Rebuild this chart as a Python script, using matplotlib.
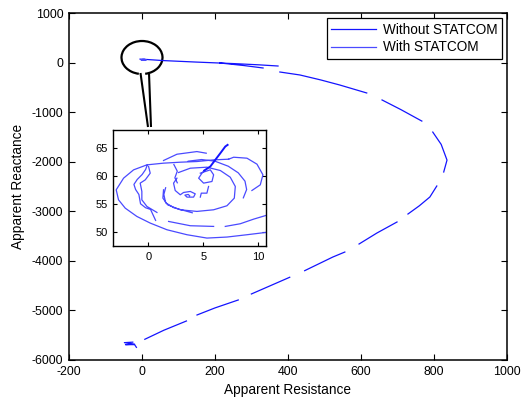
import numpy as np
import matplotlib
matplotlib.use("Agg")
import matplotlib.pyplot as plt
from matplotlib.patches import Arc

plt.rcParams['font.family'] = ['Liberation Sans', 'DejaVu Sans']
plt.rcParams['axes.unicode_minus'] = False

nan = np.nan

# "Without STATCOM" trajectory (apparent resistance, apparent reactance); NaN = gap
without_x = [-5, 5, 7.2, 60, 150, 250, 320, 373, nan,
             214, 280, 332, nan,
             378, 433, 490, 542, 616, nan,
             658, 710, 767, nan,
             797, 820, 836, 827, nan,
             808, 789, 760, 729, nan,
             699, 644, 595, nan,
             556, 523, 446, nan,
             405, 300, nan,
             264, 200, 151, nan,
             122, 60, 8, nan,
             -15, -20, -45, -20, -48, -25]
without_y = [70, 60, 65.5, 40, 10, -20, -45, -69, nan,
             -8, -60, -109, nan,
             -190, -250, -350, -452, -613, nan,
             -754, -950, -1180, nan,
             -1402, -1650, -1967, -2207, nan,
             -2490, -2712, -2890, -3055, nan,
             -3216, -3438, -3660, nan,
             -3822, -3923, -4198, nan,
             -4331, -4668, nan,
             -4789, -4950, -5092, nan,
             -5213, -5400, -5582, nan,
             -5745, -5690, -5690, -5680, -5650, -5640]

# "With STATCOM" trajectory (spiral around the operating point); NaN = gap
with_x = [7.30, 5.94, 4.42, 2.91, 1.39, -0.12, -1.33, -2.24, -2.91, -2.70, -2.09, -1.03, 0.18, 1.70, 3.52, 5.33, 7.15, 8.97, 10.70, nan,
          1.39, 2.61, 4.42, 5.27, nan,
          7.30, 7.76, 8.97, 9.88, 10.42, 10.18, 9.42, nan,
          1.85, 3.82, 5.94, nan,
          7.00, 8.36, 9.58, 10.70, nan,
          -0.09, -0.24, -0.55, -1.00, -1.30, -1.15, -0.85, -0.70, -0.24, 0.21, 0.67, nan,
          0.03, 0.18, -0.27, -0.73, -0.58, -0.58, -0.12, 0.79, nan,
          1.39, 1.33, 1.76, 2.91, 4.42, 5.94, 7.15, 7.82, 7.91, 7.45, 6.55, 5.33, 3.82, 2.76, nan,
          3.64, 4.85, 6.06, 7.27, 8.18, 8.79, 8.94, 8.64, nan,
          2.33, 2.64, 2.42, 2.64, nan,
          1.58, 1.42, 1.58, 2.33, 4.00, nan,
          2.61, 2.30, 2.45, 2.91, 3.21, 3.82, 4.27, 4.12, 3.52, 3.33, 3.64, 3.76, nan,
          4.73, 4.82, 5.33, 5.48, nan,
          4.73, 5.64, 5.94, 5.79, 5.03, 4.58, 4.88, 5.09]
with_y = [62.94, 62.82, 62.53, 62.41, 62.24, 61.94, 61.06, 59.59, 57.53, 55.76, 54.29, 52.82, 51.65, 50.47, 49.59, 49.00, 49.18, 49.59, 50.00, nan,
          62.71, 63.82, 64.29, 64.00, nan,
          62.94, 63.29, 63.12, 62.06, 60.18, 58.41, 57.41, nan,
          51.94, 51.18, 51.06, nan,
          51.06, 51.53, 52.35, 53.00, nan,
          61.89, 61.12, 60.24, 59.36, 58.48, 57.59, 56.71, 55.06, 54.36, 54.06, 52.12, nan,
          61.65, 60.47, 59.29, 58.71, 57.24, 55.76, 54.59, 53.53, nan,
          57.53, 56.06, 54.88, 54.00, 53.71, 54.00, 54.71, 56.06, 58.12, 59.76, 60.94, 61.53, 61.35, 60.59, nan,
          62.59, 62.88, 62.59, 61.70, 60.53, 59.06, 57.58, 56.11, nan,
          62.00, 60.82, 59.65, 58.77, nan,
          57.89, 56.71, 55.24, 54.36, 53.47, nan,
          59.59, 58.71, 57.41, 56.65, 57.06, 57.24, 56.82, 56.24, 56.24, 56.59, 56.71, 56.47, nan,
          56.24, 56.94, 56.94, 58.12, nan,
          60.47, 61.06, 60.18, 59.00, 58.71, 59.59, 60.47, 60.94]

# approach of the "Without STATCOM" path shown inside the inset
arrow_x = [5.09, 5.64, 6.09, 6.55, 7.00, 7.21]
arrow_y = [60.94, 61.65, 62.82, 64.00, 65.18, 65.47]

labels = ['Without STATCOM', 'With STATCOM']
xticks = [-200, 0, 200, 400, 600, 800, 1000]
yticks = [-6000, -5000, -4000, -3000, -2000, -1000, 0, 1000]
in_xticks = [0, 5, 10]
in_yticks = [50, 55, 60, 65]

c_without = '#1414ff'
c_with = '#4a4aff'

W, H = 5.22, 4.03
fig = plt.figure(figsize=(W, H), dpi=100)
ax = fig.add_axes([0.132, 0.1067, 0.839, 0.861])

ax.plot(without_x, without_y, color=c_without, lw=0.9, label=labels[0])
ax.plot(with_x, with_y, color=c_with, lw=0.9, label=labels[1])

ax.set_xlim(-200, 1000)
ax.set_ylim(-6000, 1000)
ax.set_xticks(xticks)
ax.set_yticks(yticks)
ax.tick_params(direction='in', top=True, right=True, length=4, width=0.8,
               labelsize=8.9, pad=4)
for s in ax.spines.values():
    s.set_linewidth(1.1)
ax.set_xlabel('Apparent Resistance', fontsize=9.8, labelpad=4)
ax.set_ylabel('Apparent Reactance', fontsize=9.8, labelpad=5)

leg = ax.legend(loc='upper right', bbox_to_anchor=(0.99, 0.985), fontsize=9.8,
                frameon=True, fancybox=False, edgecolor='black', framealpha=1,
                handlelength=3.3, handletextpad=0.5, labelspacing=0.25,
                borderpad=0.35, borderaxespad=0.0)
leg.get_frame().set_linewidth(0.9)

# magnifier glass (drawn in figure inches)
tr = fig.dpi_scale_trans
ax.add_patch(Arc((1.42, H - 0.575), 0.41, 0.33, theta1=281, theta2=259 + 360,
                 color='black', lw=1.6, transform=tr, clip_on=False))
ax.plot([1.405, 1.48], [H - 0.73, H - 1.27], color='black', lw=1.5,
        transform=tr, clip_on=False, solid_capstyle='butt')
ax.plot([1.49, 1.51], [H - 0.73, H - 1.27], color='black', lw=1.5,
        transform=tr, clip_on=False, solid_capstyle='butt')

# inset
ins = fig.add_axes([0.2165, 0.3896, 0.2931, 0.2878])
ins.plot(with_x, with_y, color=c_with, lw=0.9)
ins.plot(arrow_x, arrow_y, color=c_without, lw=1.4)
ins.set_xlim(-3.2, 10.7)
ins.set_ylim(47.6, 68.1)
ins.set_xticks(in_xticks)
ins.set_yticks(in_yticks)
ins.tick_params(direction='in', top=True, right=True, length=3, width=0.8,
                labelsize=8.0, pad=4)
for s in ins.spines.values():
    s.set_linewidth(1.0)

fig.savefig('out.png', dpi=100)
